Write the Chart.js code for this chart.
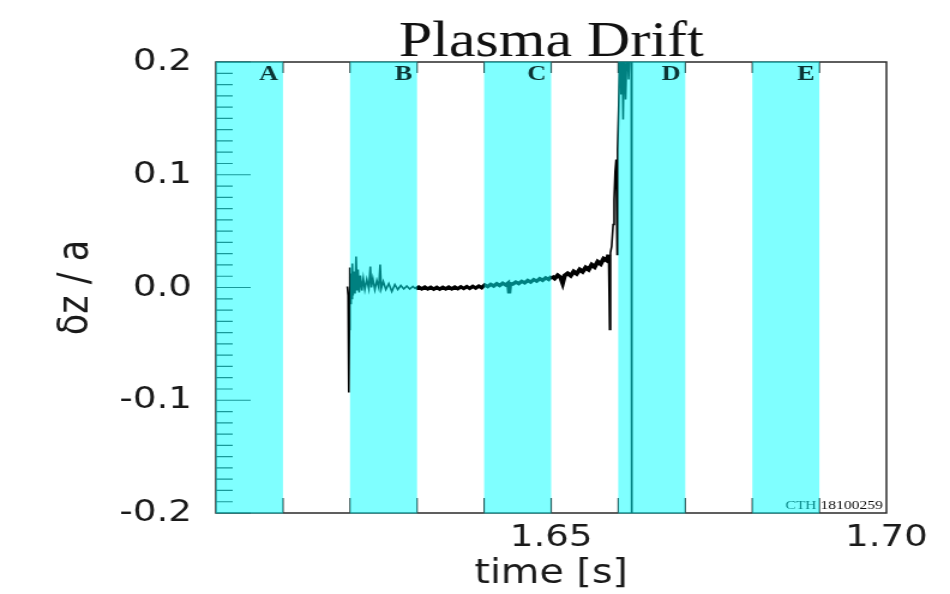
<!DOCTYPE html>
<html>
<head>
<meta charset="utf-8">
<script src="https://cdn.jsdelivr.net/npm/chart.js@4/dist/chart.umd.min.js"></script>
<style>
  html, body { margin: 0; padding: 0; background: #ffffff; overflow: hidden; }
</style>
</head>
<body>
<canvas id="c" width="792" height="594" style="display:block;width:950px;height:594px;"></canvas>
<script>
// ---- data ----
const timeS = [
  1.61960, 1.61972, 1.61982, 1.61990, 1.61997, 1.62006, 1.62015, 1.62024, 1.62034, 1.62046,
  1.62060, 1.62075, 1.62090, 1.62105, 1.62119, 1.62136, 1.62154, 1.62176, 1.62198, 1.62221,
  1.62250, 1.62280, 1.62303, 1.62318, 1.62340, 1.62370, 1.62399, 1.62429, 1.62449, 1.62466,
  1.62496, 1.62534, 1.62578, 1.62623, 1.62668, 1.62712, 1.62757, 1.62802, 1.62846, 1.62891,
  1.62936, 1.62981,
  1.63025, 1.63070, 1.63115, 1.63159, 1.63204, 1.63249, 1.63294, 1.63338, 1.63383, 1.63428,
  1.63472, 1.63517, 1.63562, 1.63607, 1.63651, 1.63696, 1.63741, 1.63785, 1.63830, 1.63875,
  1.63920, 1.63964,
  1.64009, 1.64054, 1.64098, 1.64143, 1.64188, 1.64232, 1.64277, 1.64322, 1.64359, 1.64374,
  1.64389, 1.64426, 1.64471, 1.64516, 1.64560, 1.64605, 1.64650, 1.64694, 1.64739, 1.64784,
  1.64829, 1.64873, 1.64918, 1.64963,
  1.65007, 1.65052, 1.65097, 1.65142, 1.65171, 1.65201, 1.65246, 1.65291, 1.65335, 1.65380,
  1.65425, 1.65469, 1.65514, 1.65559, 1.65604, 1.65648, 1.65693, 1.65738, 1.65782, 1.65827,
  1.65857, 1.65872, 1.65884, 1.65902, 1.65924, 1.65939, 1.65954, 1.65969, 1.65984, 1.65991,
  1.66006, 1.66021, 1.66033, 1.66043, 1.66058, 1.66073, 1.66088, 1.66110, 1.66133, 1.66155,
  1.66177, 1.66195, 1.66202
];
const driftZ = [
  0.0009, -0.0071, -0.0931, -0.0373, 0.0177, -0.0142, 0.0124, -0.0098, 0.0213, -0.0071,
  0.0142, -0.0053, 0.0275, -0.0027, 0.0160, -0.0044, 0.0106, -0.0027, 0.0080, -0.0018,
  0.0071, -0.0009, 0.0186, 0.0000, 0.0080, -0.0018, 0.0062, 0.0000, 0.0204, -0.0009,
  0.0053, -0.0018, 0.0035, -0.0035, 0.0027, -0.0018, 0.0018, -0.0013, 0.0013, -0.0013,
  0.0009, -0.0013,
  0.0004, -0.0012, 0.0003, -0.0013, 0.0002, -0.0014, 0.0002, -0.0014, 0.0002, -0.0013,
  0.0003, -0.0012, 0.0004, -0.0011, 0.0006, -0.0009, 0.0008, -0.0007, 0.0010, -0.0005,
  0.0013, -0.0002,
  0.0023, 0.0008, 0.0028, 0.0013, 0.0033, 0.0018, 0.0038, 0.0022, 0.0040, -0.0053,
  0.0034, 0.0030, 0.0048, 0.0035, 0.0055, 0.0041, 0.0062, 0.0048, 0.0070, 0.0056,
  0.0078, 0.0064, 0.0086, 0.0072,
  0.0100, 0.0080, 0.0108, 0.0088, 0.0040, 0.0105, 0.0125, 0.0105, 0.0142, 0.0122,
  0.0160, 0.0140, 0.0178, 0.0158, 0.0202, 0.0182, 0.0228, 0.0208, 0.0256, 0.0240,
  0.0290, -0.0373, 0.0310, 0.0364, 0.0559, 0.0780, 0.1029, 0.1135, 0.0293, 0.1224,
  0.1579, 0.2004, 0.2200, 0.1712, 0.2155, 0.1490, 0.2111, 0.1667, 0.2200, 0.1845,
  0.2200, 0.2288, -0.2412
];
const bandStart = [1.60, 1.62, 1.64, 1.66, 1.68];
const bandEnd   = [1.61, 1.63, 1.65, 1.67, 1.69];
const bandLabels = ['A', 'B', 'C', 'D', 'E'];
const xTickValues = [1.65, 1.70];
const xTickLabels = ['1.65', '1.70'];
const yTickValues = [-0.2, -0.1, 0.0, 0.1, 0.2];
const yTickLabels = ['-0.2', '-0.1', '0.0', '0.1', '0.2'];
const titleText = 'Plasma Drift';
const xTitle = 'time [s]';
const yTitle = 'δz / a';
const shotText = 'CTH 18100259';

const points = timeS.map((t, i) => ({ x: t, y: driftZ[i] }));

const framePlugin = {
  id: 'frameTicks',
  beforeDatasetsDraw(chart) {
    const { ctx, chartArea: a, scales: { x, y } } = chart;
    ctx.save();
    ctx.strokeStyle = '#2a2a2a';
    ctx.lineWidth = 1.5;
    ctx.strokeRect(a.left, a.top, a.right - a.left, a.bottom - a.top);
    ctx.lineWidth = 1.2;
    ctx.strokeStyle = '#333';
    ctx.beginPath();
    for (let i = -20; i <= 20; i++) {
      const py = y.getPixelForValue(i / 100);
      const len = (i % 10 === 0) ? 29 : 14;
      ctx.moveTo(a.left, py); ctx.lineTo(a.left + len, py);
    }
    for (let i = 1; i < 10; i++) {
      const px = x.getPixelForValue(1.60 + i / 100);
      ctx.moveTo(px, a.top); ctx.lineTo(px, a.top + 11);
      ctx.moveTo(px, a.bottom); ctx.lineTo(px, a.bottom - 15);
    }
    ctx.stroke();
    ctx.restore();
  },
  afterDatasetsDraw(chart) {
    const { ctx, chartArea: a, scales: { x } } = chart;
    ctx.save();
    // shot number stamp (under the bands)
    ctx.fillStyle = '#111';
    ctx.font = '13px "Liberation Serif", serif';
    ctx.textAlign = 'right';
    ctx.textBaseline = 'alphabetic';
    ctx.fillText(shotText, a.right - 3, a.bottom - 4);
    // translucent cyan bands over everything
    ctx.fillStyle = 'rgba(0,255,255,0.5)';
    bandStart.forEach((s, i) => {
      const x0 = x.getPixelForValue(s);
      const x1 = x.getPixelForValue(bandEnd[i]);
      ctx.fillRect(x0, a.top - 0.5, x1 - x0, a.bottom - a.top + 1);
    });
    // band labels
    ctx.fillStyle = '#0b3434';
    ctx.font = 'bold 22px "Liberation Serif", serif';
    ctx.textAlign = 'right';
    bandLabels.forEach((lab, i) => {
      const x1 = x.getPixelForValue(bandEnd[i]);
      ctx.fillText(lab, x1 - 4, a.top + 18);
    });
    ctx.restore();
  }
};

const chart = new Chart(document.getElementById('c'), {
  type: 'line',
  data: {
    datasets: [{
      data: points,
      borderColor: '#000000',
      borderWidth: 1.8,
      pointRadius: 0,
      tension: 0,
      fill: false,
      segment: {
        borderWidth: (c) => {
          const t = c.p0.parsed.x;
          if (t > 1.6295 && t < 1.6498) return 3.4;
          if (t >= 1.6498 && t < 1.6585) return 3.9;
          return 1.6;
        }
      }
    }]
  },
  options: {
    responsive: false,
    animation: false,
    devicePixelRatio: 1,
    layout: { padding: { left: 0, right: 53, top: 0, bottom: 0 } },
    plugins: {
      legend: { display: false },
      tooltip: { enabled: false },
      title: {
        display: true,
        text: titleText,
        fullSize: false,
        color: '#111',
        font: { family: '"Liberation Serif", serif', size: 50, weight: 'normal', lineHeight: 0.76 },
        padding: { top: 24, bottom: 0 }
      }
    },
    scales: {
      x: {
        type: 'linear',
        min: 1.60, max: 1.70,
        afterFit: (s) => { s.height = 81; },
        afterBuildTicks: (s) => { s.ticks = xTickValues.map(v => ({ value: v })); },
        grid: { display: false, drawTicks: false },
        border: { display: false },
        ticks: {
          autoSkip: false, maxRotation: 0, padding: 6,
          color: '#1a1a1a',
          font: { family: '"DejaVu Sans", sans-serif', size: 31 },
          callback: (v) => {
            const i = xTickValues.findIndex(t => Math.abs(t - v) < 1e-6);
            return i >= 0 ? xTickLabels[i] : '';
          }
        },
        title: {
          display: true, text: xTitle, color: '#1a1a1a',
          font: { family: '"DejaVu Sans", sans-serif', size: 33 },
          padding: { top: 0, bottom: 0 }
        }
      },
      y: {
        type: 'linear',
        min: -0.2, max: 0.2,
        afterFit: (s) => { s.width = 180; },
        afterBuildTicks: (s) => { s.ticks = yTickValues.map(v => ({ value: v })); },
        grid: { display: false, drawTicks: false },
        border: { display: false },
        ticks: {
          padding: 20,
          color: '#1a1a1a',
          font: { family: '"DejaVu Sans", sans-serif', size: 31 },
          callback: (v) => {
            const i = yTickValues.findIndex(t => Math.abs(t - v) < 1e-6);
            return i >= 0 ? yTickLabels[i] : '';
          }
        },
        title: {
          display: true, text: yTitle, color: '#1a1a1a',
          font: { family: '"DejaVu Sans", sans-serif', size: 35 },
          padding: { top: 43, bottom: 0 }
        }
      }
    }
  },
  plugins: [framePlugin]
});
const cv = document.getElementById('c');
cv.style.width = '950px';
cv.style.height = '594px';
</script>
</body>
</html>
